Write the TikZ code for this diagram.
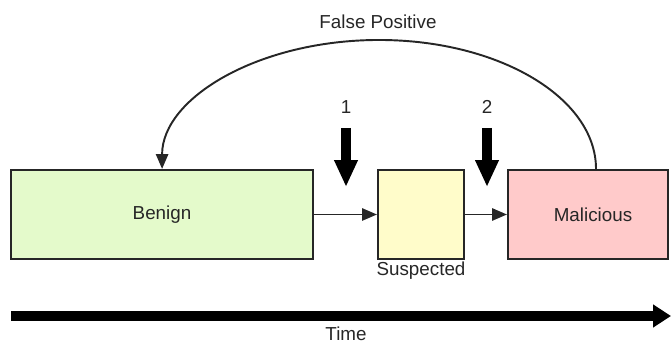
\documentclass[tikz,border=0pt]{standalone}
\usepackage{fontspec}
\setsansfont{Liberation Sans}
\usepackage{tikz}
\usetikzlibrary{arrows.meta,positioning}
\definecolor{benigngreen}{HTML}{E4FACB}
\definecolor{suspectyellow}{HTML}{FFFCCA}
\definecolor{maliciousred}{HTML}{FFCACA}
\definecolor{ink}{HTML}{262626}

\begin{document}
\begin{tikzpicture}[
  x=.02cm,y=.02cm,
  font=\sffamily\fontsize{10.7}{13}\selectfont,text=ink,
  state/.style={draw=ink,line width=1.2pt,minimum height=1.78cm,inner sep=0pt},
  flow/.style={-{Triangle[width=7pt,length=8.5pt]},line width=1.1pt,draw=ink},
  probe/.style={-{Triangle[width=.44cm,length=.54cm]},line width=.2cm,draw=black},
  timeline/.style={-{Triangle[width=.44cm,length=.36cm]},line width=.2cm,draw=black}
]
\useasboundingbox (0,0) rectangle (671,344);

% lifecycle states
\node[state,minimum width=6.04cm,fill=benigngreen] (benign) at (162,129.5) {Benign};
\node[state,minimum width=1.72cm,fill=suspectyellow] (suspected) at (421,129.5) {};
\node[state,minimum width=3.2cm,fill=maliciousred] (malicious) at (588,129.5)
  {\hspace*{.2cm}Malicious};
\node (suspectedlbl) at (421,73) {Suspected};

\draw[flow] (benign.east) -- (suspected.west);
\draw[flow] (suspected.east) -- (malicious.west);

% detection points
\node (one) at (346,237) {1};
\node (two) at (487,237) {2};
\coordinate (drop1) at (346,216);
\coordinate (hit1) at (346,157);
\coordinate (drop2) at (487,216);
\coordinate (hit2) at (487,157);
\draw[probe] (drop1) -- (hit1);
\draw[probe] (drop2) -- (hit2);

% false positive loop back to benign
\draw[flow] ([xshift=.16cm]malicious.north)
  arc[start angle=0,end angle=180,x radius=4.34cm,y radius=2.58cm];
\node (fp) at (378,322) {False Positive};

% time axis
\coordinate (tstart) at (11,28);
\coordinate (tend) at (671,28);
\draw[timeline] (tstart) -- (tend);
\node (time) at (346,10) {Time};
\end{tikzpicture}
\end{document}
